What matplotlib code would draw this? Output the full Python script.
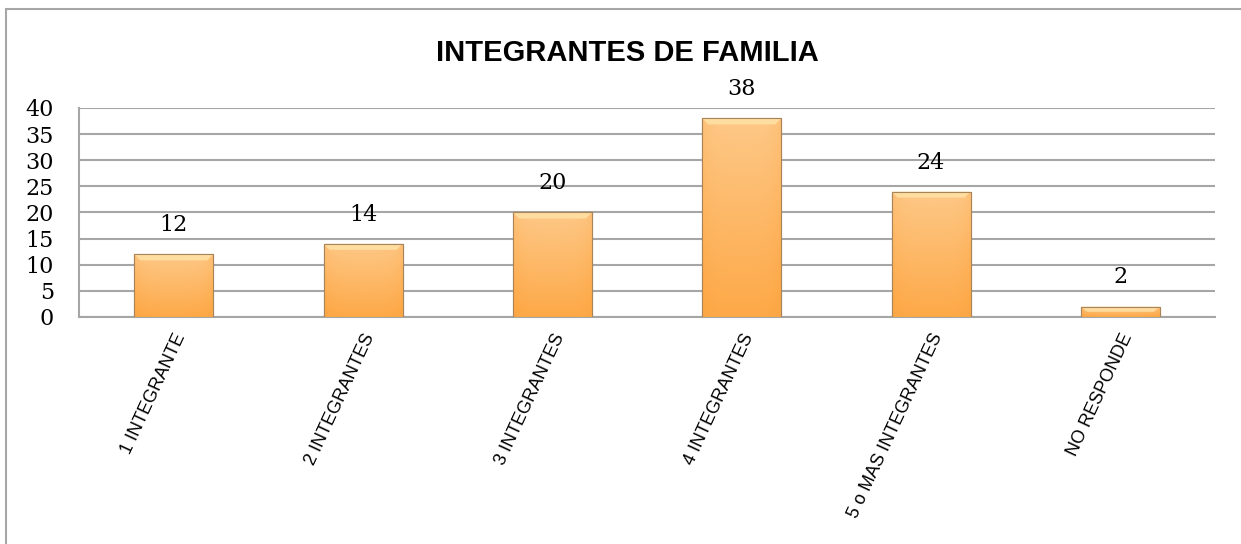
import numpy as np
import matplotlib
import matplotlib.pyplot as plt
from matplotlib.colors import LinearSegmentedColormap
from matplotlib.patches import Rectangle, Polygon

matplotlib.use("Agg")

# data
categorias = ["1 INTEGRANTE", "2 INTEGRANTES", "3 INTEGRANTES",
              "4 INTEGRANTES", "5 o MAS INTEGRANTES", "NO RESPONDE"]
valores = [12, 14, 20, 38, 24, 2]
y_ticks = [0, 5, 10, 15, 20, 25, 30, 35, 40]

fig = plt.figure(figsize=(12.41, 5.44), dpi=100)
ax = fig.add_axes([0.0637, 0.4173, 0.9154, 0.3842])

# outer chart border
fig.patches.append(Rectangle((6 / 1241, -0.01), 1.05, 1 - 9 / 544 + 0.01,
                             transform=fig.transFigure, fill=False,
                             edgecolor="#A6A6A6", lw=1.5))

x = np.arange(len(categorias))
bars = ax.bar(x, valores, width=0.417, color="#FEB865",
              edgecolor="#A88458", linewidth=0.8, zorder=3)

ax.set_xlim(-0.5, len(categorias) - 0.5)
ax.set_ylim(0, 40)

# orange gradient inside each bar
cmap = LinearSegmentedColormap.from_list("naranja", ["#E8913A", "#FDA948", "#FEC887"])
vert = np.linspace(0.5, 1, 100)[:, None]
horiz = 1 - 0.12 * np.abs(np.linspace(-1, 1, 60))[None, :] ** 4
grad = vert * horiz
px_x = 6 / 189.3   # bevel size, 6 px in data units
px_y = 6 * 40 / 209
for b in bars:
    x0, y0 = b.get_x(), b.get_y()
    w, h = b.get_width(), b.get_height()
    im = ax.imshow(grad, cmap=cmap, aspect="auto", origin="lower",
                   extent=(x0, x0 + w, y0, y0 + h), zorder=3.5,
                   vmin=0, vmax=1)
    im.set_clip_path(b)
    bev = min(px_y, h / 2)
    ax.add_patch(Polygon([(x0, y0 + h), (x0 + w, y0 + h),
                          (x0 + w - px_x, y0 + h - bev), (x0 + px_x, y0 + h - bev)],
                         closed=True, facecolor="#FFE2A6", edgecolor="none",
                         alpha=0.85, zorder=3.7))
    ax.add_patch(Rectangle((x0, y0), w, h, fill=False,
                           edgecolor="#A88458", lw=0.8, zorder=4))

for xi, v in zip(x, valores):
    ax.annotate(str(v), (xi, v), xytext=(0, 13), textcoords="offset points",
                ha="center", va="bottom", fontsize=16,
                family="DejaVu Serif")

ax.set_yticks(y_ticks)
ax.set_yticklabels([str(t) for t in y_ticks], family="DejaVu Serif", fontsize=16)
ax.set_xticks(x)
ax.set_xticklabels(categorias, rotation=65, ha="right", va="top",
                   rotation_mode="anchor", family="Liberation Sans", fontsize=13)
ax.tick_params(length=0)
ax.tick_params(axis="x", pad=10)
ax.tick_params(axis="y", pad=18)

ax.yaxis.grid(True, color="#A6A6A6", lw=1.5, zorder=0)
ax.set_axisbelow(True)
for s in ["top", "right"]:
    ax.spines[s].set_visible(False)
for s in ["left", "bottom"]:
    ax.spines[s].set_color("#A6A6A6")
    ax.spines[s].set_linewidth(1.5)

fig.text(627 / 1241, 1 - 53 / 544, "INTEGRANTES DE FAMILIA", ha="center", va="center",
         fontsize=21, fontweight="bold", family="Liberation Sans")

fig.savefig("out.png", dpi=100)
